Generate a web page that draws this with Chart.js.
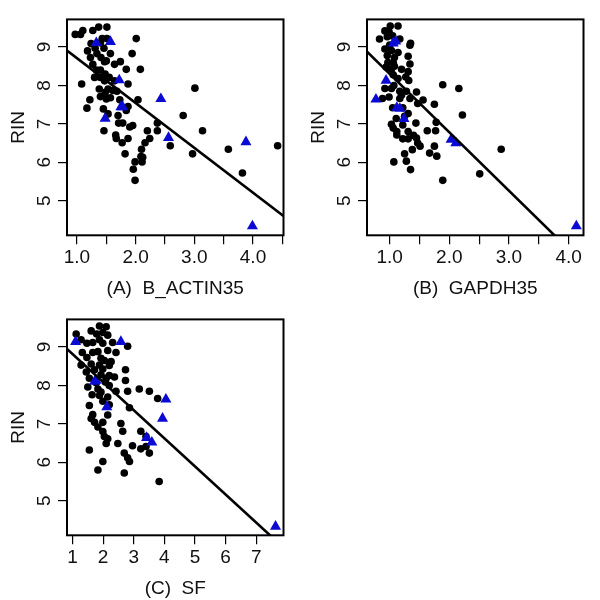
<!DOCTYPE html>
<html>
<head>
<meta charset="utf-8">
<script src="https://cdn.jsdelivr.net/npm/chart.js@4"></script>
<style>
  body { margin: 0; background: #fff; }
  #wrap { position: relative; width: 600px; height: 600px; background: #fff; }
  canvas { position: absolute; }
</style>
</head>
<body>
<div id="wrap">
  <canvas id="chartA" width="300" height="300" style="left:0;top:0"></canvas>
  <canvas id="chartB" width="300" height="300" style="left:300px;top:0"></canvas>
  <canvas id="chartC" width="300" height="300" style="left:0;top:300px"></canvas>
</div>
<script>
// RIN axis (shared by all three panels)
const rinRange = [4.1, 9.72];
const rinTicks = [5, 6, 7, 8, 9];
const rinLabels = ['5', '6', '7', '8', '9'];

// (A) B_ACTIN35
const actinRange = [0.83, 4.52];
const actinTicks = [1, 1.5, 2, 2.5, 3, 3.5, 4, 4.5];
const actinLabels = ['1.0', '', '2.0', '', '3.0', '', '4.0', ''];
const actinX = [0.97, 1.06, 1.10, 1.27, 1.37, 1.51, 1.43, 1.51, 1.24, 1.40, 2.01, 1.31, 1.46, 1.18, 1.34,
  1.57, 1.23, 1.41, 1.50, 1.94, 1.27, 1.47, 1.64, 1.74, 1.84, 2.08, 1.33, 1.40, 1.48, 1.08,
  1.30, 1.40, 1.47, 1.55, 1.64, 1.87, 1.38, 1.53, 1.61, 1.48, 1.68, 1.22, 1.40, 1.50, 1.57,
  1.73, 2.04, 1.17, 1.45, 1.53, 1.84, 1.87, 1.70, 1.71, 1.78, 1.90, 1.95, 2.37, 1.46, 1.66,
  1.67, 1.87, 2.20, 2.37, 3.14, 1.77, 2.24, 2.16, 3.01, 2.81, 2.59, 2.10, 2.97, 1.82, 3.58,
  2.09, 2.12, 1.99, 2.11, 1.96, 1.99, 3.82, 4.42];
const actinY = [9.33, 9.33, 9.43, 9.43, 9.52, 9.52, 9.22, 9.22, 9.09, 9.11, 9.22, 8.97, 8.97, 8.90, 8.83,
  8.83, 8.73, 8.73, 8.64, 8.83, 8.55, 8.62, 8.55, 8.62, 8.42, 8.42, 8.40, 8.40, 8.30, 8.04,
  8.21, 8.21, 8.12, 8.21, 8.12, 8.04, 7.91, 7.91, 7.87, 7.82, 7.85, 7.63, 7.71, 7.65, 7.68,
  7.63, 7.63, 7.41, 7.39, 7.26, 7.35, 7.45, 7.22, 7.02, 7.02, 6.92, 6.96, 7.02, 6.82, 6.71,
  6.62, 6.62, 6.82, 6.82, 6.82, 6.51, 6.62, 6.51, 7.93, 7.22, 6.43, 6.34, 6.22, 6.22, 6.34,
  6.15, 6.13, 6.01, 6.01, 5.82, 5.53, 5.72, 6.43];
const actinTriX = [1.33, 1.57, 1.72, 2.43, 1.75, 1.78, 1.48, 2.56, 3.88, 3.99];
const actinTriY = [9.11, 9.14, 8.14, 7.65, 7.44, 7.44, 7.14, 6.64, 6.53, 4.34];
const actinFit = [9.876, -1.167];

// (B) GAPDH35
const gapdhRange = [0.62, 4.25];
const gapdhTicks = [1, 1.5, 2, 2.5, 3, 3.5, 4];
const gapdhLabels = ['1.0', '', '2.0', '', '3.0', '', '4.0'];
const gapdhX = [1.01, 1.14, 0.92, 0.99, 0.96, 1.05, 0.83, 1.17, 1.35, 1.34, 0.92, 1.03, 1.14, 0.96, 1.08,
  1.31, 0.97, 1.06, 1.34, 0.94, 1.03, 1.20, 1.31, 1.06, 1.27, 1.14, 1.32, 1.07, 0.92, 1.03,
  1.17, 1.28, 1.45, 1.89, 2.16, 0.88, 0.99, 1.17, 1.34, 1.56, 1.47, 1.75, 1.05, 1.22, 1.31,
  2.22, 1.11, 1.44, 1.03, 1.22, 1.06, 1.63, 1.77, 1.31, 1.78, 1.12, 1.22, 1.31, 1.45, 1.47,
  1.51, 1.75, 1.38, 1.25, 1.67, 1.79, 1.07, 1.28, 1.35, 1.89, 2.87, 2.51, 1.00, 1.08, 1.20,
  1.25, 1.12, 1.40];
const gapdhY = [9.55, 9.55, 9.42, 9.40, 9.27, 9.29, 9.21, 9.21, 9.10, 9.05, 8.95, 8.91, 8.86, 8.78, 8.73,
  8.76, 8.60, 8.60, 8.56, 8.48, 8.43, 8.42, 8.36, 8.28, 8.22, 8.18, 8.13, 8.00, 7.92, 7.92,
  7.85, 7.85, 7.83, 8.02, 7.92, 7.66, 7.70, 7.66, 7.66, 7.62, 7.53, 7.51, 7.42, 7.42, 7.27,
  7.23, 7.14, 7.02, 6.99, 6.97, 6.89, 6.82, 6.82, 6.80, 7.04, 6.71, 6.61, 6.61, 6.63, 6.50,
  6.42, 6.42, 6.33, 6.22, 6.24, 6.16, 6.01, 6.03, 5.81, 5.53, 6.34, 5.70, 9.05, 8.50, 7.75,
  7.20, 6.80, 6.70];
const gapdhTriX = [1.06, 1.10, 0.94, 0.77, 1.12, 1.17, 1.24, 2.03, 2.11, 4.13];
const gapdhTriY = [9.10, 9.15, 8.13, 7.64, 7.42, 7.40, 7.13, 6.59, 6.50, 4.34];
const gapdhFit = [9.82, -1.52];

// (C) SF
const sfRange = [0.82, 7.89];
const sfTicks = [1, 2, 3, 4, 5, 6, 7];
const sfLabels = ['1', '2', '3', '4', '5', '6', '7'];
const sfX = [1.88, 2.10, 1.61, 1.79, 1.99, 2.15, 1.12, 1.28, 1.47, 1.66, 1.88, 1.99, 2.31, 2.80, 1.32,
  1.66, 1.83, 2.15, 2.42, 1.47, 1.93, 2.04, 2.26, 1.28, 1.61, 1.88, 2.20, 1.72, 1.99, 2.73,
  1.45, 1.93, 2.20, 1.55, 2.10, 2.37, 2.73, 1.77, 2.07, 1.50, 1.83, 2.20, 1.93, 2.42, 2.80,
  3.18, 3.51, 1.64, 1.88, 2.15, 3.78, 1.99, 1.55, 2.20, 2.86, 1.66, 1.61, 2.15, 1.99, 1.72,
  1.83, 2.58, 3.23, 1.99, 2.64, 2.04, 2.15, 3.40, 2.10, 2.48, 2.96, 3.40, 1.55, 3.23, 2.69,
  2.80, 3.51, 1.99, 2.86, 1.83, 2.69, 3.83];
const sfY = [9.55, 9.53, 9.42, 9.34, 9.38, 9.31, 9.34, 9.19, 9.10, 9.12, 9.19, 9.10, 9.12, 9.02, 8.86,
  8.86, 8.88, 8.91, 8.86, 8.73, 8.71, 8.65, 8.62, 8.53, 8.56, 8.53, 8.52, 8.41, 8.43, 8.41,
  8.35, 8.28, 8.26, 8.19, 8.19, 8.22, 8.13, 8.07, 8.09, 7.96, 7.91, 8.00, 7.83, 7.85, 7.85,
  7.91, 7.85, 7.76, 7.74, 7.70, 7.66, 7.59, 7.48, 7.50, 7.42, 7.24, 7.14, 7.23, 7.04, 7.04,
  6.92, 7.01, 6.81, 6.80, 6.81, 6.67, 6.61, 6.67, 6.49, 6.49, 6.43, 6.41, 6.32, 6.35, 6.24,
  6.12, 6.24, 6.02, 6.02, 5.80, 5.72, 5.50];
const sfTriX = [1.10, 2.58, 1.77, 1.72, 2.12, 4.05, 3.94, 3.42, 3.59, 7.63];
const sfTriY = [9.14, 9.14, 8.13, 8.10, 7.44, 7.64, 7.14, 6.64, 6.52, 4.33];
const sfFit = [9.547, -0.731];

const FONT = "'Liberation Sans', Arial, sans-serif";
const INK = '#111';

const boxPlugin = {
  id: 'box',
  afterDatasetsDraw(chart) {
    const { ctx, chartArea: a } = chart;
    ctx.save();
    ctx.strokeStyle = '#000';
    ctx.lineWidth = 2;
    ctx.strokeRect(a.left, a.top, a.right - a.left, a.bottom - a.top);
    ctx.restore();
  }
};

function points(xs, ys) {
  return xs.map((x, i) => ({ x: x, y: ys[i] }));
}

function makePanel(id, p) {
  const [x0, x1] = p.range;
  new Chart(document.getElementById(id), {
    type: 'scatter',
    data: {
      datasets: [
        {
          type: 'line',
          data: [{ x: x0, y: p.fit[0] + p.fit[1] * x0 }, { x: x1, y: p.fit[0] + p.fit[1] * x1 }],
          borderColor: '#000',
          borderWidth: 2.6,
          pointRadius: 0,
          fill: false
        },
        {
          data: points(p.triX, p.triY),
          pointStyle: 'triangle',
          pointRadius: 6.4,
          backgroundColor: '#0a0ad2',
          borderWidth: 0
        },
        {
          data: points(p.x, p.y),
          pointStyle: 'circle',
          pointRadius: 3.8,
          backgroundColor: '#000',
          borderWidth: 0
        }
      ]
    },
    options: {
      responsive: false,
      animation: false,
      layout: { padding: { left: 0, top: 17.3, right: 16.5, bottom: 0 } },
      plugins: { legend: { display: false }, tooltip: { enabled: false } },
      scales: {
        x: {
          type: 'linear',
          min: x0,
          max: x1,
          afterBuildTicks: s => { s.ticks = p.ticks.map(v => ({ value: v })); },
          afterFit: s => { s.height = 64.7; },
          border: { display: false },
          grid: { drawOnChartArea: false, tickLength: 9, color: '#000', lineWidth: 1.2 },
          ticks: {
            autoSkip: false, maxRotation: 0, padding: 2.3, color: INK,
            font: { family: FONT, size: 19 },
            callback: (v, i) => p.labels[i]
          },
          title: {
            display: true, text: p.title, color: INK,
            font: { family: FONT, size: 19 }, padding: { top: 0, bottom: 0 }
          }
        },
        y: {
          min: rinRange[0],
          max: rinRange[1],
          afterBuildTicks: s => { s.ticks = rinTicks.map(v => ({ value: v })); },
          afterFit: s => { s.width = 67; },
          border: { display: false },
          grid: { drawOnChartArea: false, tickLength: 9, color: '#000', lineWidth: 1.2 },
          ticks: {
            autoSkip: false, minRotation: 90, maxRotation: 90, crossAlign: 'center',
            padding: 8, color: INK, font: { family: FONT, size: 19 },
            callback: (v, i) => rinLabels[i]
          },
          title: {
            display: true, text: 'RIN', color: INK,
            font: { family: FONT, size: 19 }, padding: { top: 7.4, bottom: 0 }
          }
        }
      }
    },
    plugins: [boxPlugin]
  });
}

makePanel('chartA', {
  title: '(A)  B_ACTIN35', range: actinRange, ticks: actinTicks, labels: actinLabels,
  x: actinX, y: actinY, triX: actinTriX, triY: actinTriY, fit: actinFit
});
makePanel('chartB', {
  title: '(B)  GAPDH35', range: gapdhRange, ticks: gapdhTicks, labels: gapdhLabels,
  x: gapdhX, y: gapdhY, triX: gapdhTriX, triY: gapdhTriY, fit: gapdhFit
});
makePanel('chartC', {
  title: '(C)  SF', range: sfRange, ticks: sfTicks, labels: sfLabels,
  x: sfX, y: sfY, triX: sfTriX, triY: sfTriY, fit: sfFit
});
</script>
</body>
</html>
